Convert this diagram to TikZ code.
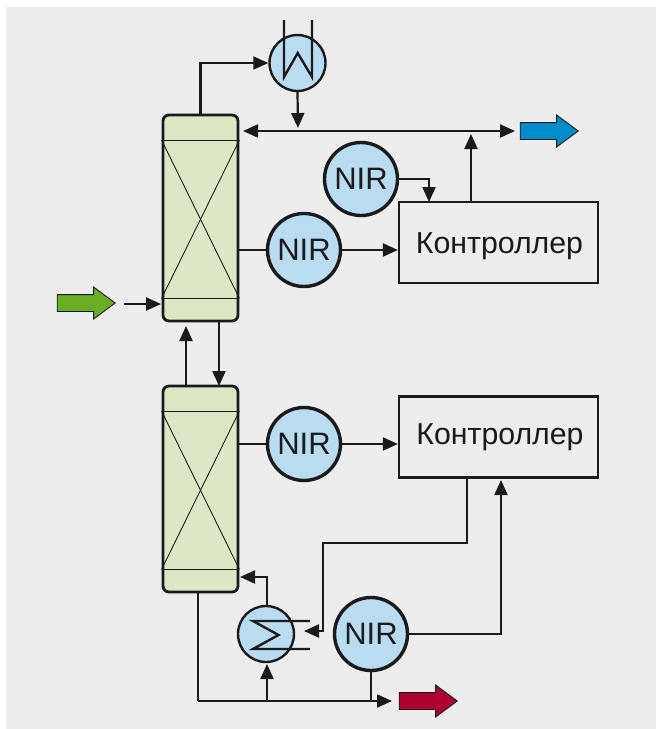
\documentclass[tikz,border=0pt]{standalone}
\usepackage{fontspec}
\setmainfont{Liberation Sans}
\usepackage{tikz}
\usetikzlibrary{arrows.meta,shapes.arrows,positioning}
\definecolor{panelgray}{HTML}{EDEDED}
\definecolor{columngreen}{HTML}{DCE8C5}
\definecolor{circleblue}{HTML}{B9DCF1}
\definecolor{inkblack}{HTML}{1A1A1E}
\definecolor{feedgreen}{HTML}{6AAF23}
\definecolor{topblue}{HTML}{008CCB}
\definecolor{bottomred}{HTML}{AF0030}
\tikzset{
	flow/.style={inkblack,line width=2.2pt,-{Triangle[length=15pt,width=13pt]}},
	line/.style={inkblack,line width=2.2pt},
	column/.style={draw=inkblack,line width=2.8pt,fill=columngreen,rounded corners=6pt,minimum width=75pt,minimum height=206pt,inner sep=0pt},
	nir/.style={circle,draw=inkblack,line width=3.4pt,fill=circleblue,minimum size=73pt,inner sep=0pt,text=inkblack,font=\fontsize{31}{31}\selectfont},
	exchanger/.style={circle,draw=inkblack,line width=2.4pt,fill=circleblue,minimum size=56pt,inner sep=0pt},
	controller/.style={draw=inkblack,line width=2.2pt,minimum width=199pt,minimum height=81pt,inner sep=0pt,text=inkblack,font=\fontsize{30.3}{30.3}\selectfont},
	stream/.style={single arrow,draw=inkblack,line width=.9pt,minimum height=58pt,inner xsep=0pt,inner ysep=8pt,single arrow head extend=7.5pt,single arrow tip angle=73}
}
\begin{document}
\begin{tikzpicture}[x=1pt,y=-1pt]
	\useasboundingbox (0,0) rectangle (656,729);
	\fill[panelgray] (6,7) rectangle (656,729);
	% columns
	\node[column] (cola) at (200.5,218) {};
	\node[column] (colb) at (200.5,489) {};
	\foreach \c in {cola,colb} {
		\draw[inkblack,line width=.9pt] ([yshift=-26.5pt]\c.north west) coordinate (\c tl) -- ([yshift=-26.5pt]\c.north east) coordinate (\c tr);
		\draw[inkblack,line width=.9pt] ([yshift=24pt]\c.south west) coordinate (\c bl) -- ([yshift=24pt]\c.south east) coordinate (\c br);
		\draw[inkblack,line width=.9pt] (\c tl) -- (\c br);
		\draw[inkblack,line width=.9pt] (\c tr) -- (\c bl);
	}
	% instruments
	\node[nir] (nira) at (361,179) {NIR};
	\node[nir] (nirb) at (304,250) {NIR};
	\node[nir] (nirc) at (304,444) {NIR};
	\node[nir] (nird) at (371,634) {NIR};
	\node[controller,text height=22pt,text depth=1pt] (ctrla) at (498.5,242.5) {\hspace{2pt}Контроллер};
	\node[controller] (ctrlb) at (498.5,437) {\hspace{3pt}Контроллер};
	% exchangers
	\node[exchanger] (cond) at (297.5,63) {};
	\node[exchanger] (reb) at (266,634) {};
	\draw[line,line width=2.4pt] (284,20) -- (284,77) -- (297.7,53) -- (312,77) -- (312,20);
	\draw[line,line width=2.4pt] (310,621) -- (253,621) -- (278.5,635) -- (253,649) -- (310,649);
	% streams
	\node[stream,fill=feedgreen] (feed) at (80.5,303) {};
	\node[stream,fill=topblue] (top) at (543.5,131) {};
	\node[stream,fill=bottomred] (bottom) at (422.5,701) {};
	\coordinate (feedin) at (124,304);
	\coordinate (feedend) at (161,304);
	\coordinate (busl) at (243,131);
	\coordinate (busr) at (515,131);
	\coordinate (prodend) at (392,701);
	\coordinate (prodc) at (198,701);
	% top column
	\draw[flow] (feedin) -- (feedend);
	\draw[flow] (cola.north) |- (cond.west);
	\draw[flow] (cond.south) -- (298,128);
	\draw[line,{Triangle[length=15pt,width=13pt]}-{Triangle[length=15pt,width=13pt]}] (busl) -- (busr);
	\draw[line] (cola.east |- nirb) -- (nirb.west);
	\draw[flow] (nirb.east) -- (nirb.east -| ctrla.west);
	\draw[flow] (nira.east) -| (429,202);
	\draw[flow] (471,202) -- (471,134);
	% between columns
	\draw[flow] (186,386) -- (186,326);
	\draw[flow] (219,321) -- (219,386);
	% bottom column
	\draw[line] (colb.east |- nirc) -- (nirc.west);
	\draw[flow] (nirc.east) -- (nirc.east -| ctrlb.west);
	\draw[flow] (467,478) -- (467,543) -- (323,543) -- (323,631) -- (304,631);
	\draw[flow] (nird.east) -| (501,480);
	\draw[line] (198,592) -- (prodc);
	\draw[flow] (prodc) -- (prodend);
	\draw[flow] (267,701) -- (267,664);
	\draw[line] (nird.south) -- (371,701);
	\draw[flow] (267,606) -- (267,577) -- (240,577);
\end{tikzpicture}
\end{document}
